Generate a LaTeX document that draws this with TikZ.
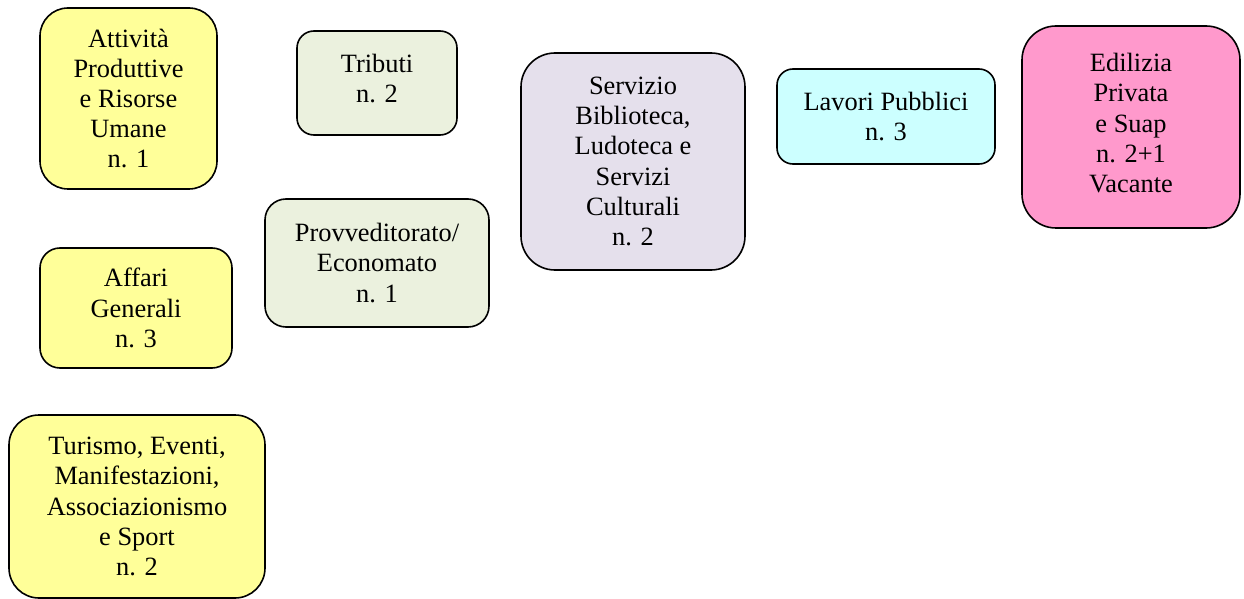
\documentclass[tikz,border=0pt]{standalone}
\usepackage{fontspec}
\setmainfont{Liberation Serif}
\definecolor{ufficiogiallo}{HTML}{FFFF99}
\definecolor{ufficioverde}{HTML}{EBF1DE}
\definecolor{ufficiolilla}{HTML}{E5E0EC}
\definecolor{ufficiociano}{HTML}{CCFFFF}
\definecolor{ufficiorosa}{HTML}{FF99CC}
\begin{document}
\begin{tikzpicture}[
		x=0.5pt, y=-0.5pt,
		ufficio/.style={draw=black, line width=0.8pt, align=center, inner sep=0pt, outer sep=0pt,
			font=\fontsize{13.2}{15.1}\selectfont},
		giallo/.style={ufficio, fill=ufficiogiallo},
		verde/.style={ufficio, fill=ufficioverde},
		lilla/.style={ufficio, fill=ufficiolilla},
		ciano/.style={ufficio, fill=ufficiociano},
		rosa/.style={ufficio, fill=ufficiorosa}
		]
		
		% Page frame
		\useasboundingbox (0,0) rectangle (1244,599);
		
		% First column
		\node[giallo, minimum width=88.5pt, minimum height=90.5pt, rounded corners=14pt] (attivita) at (128.5,98.5)
			{Attività\\Produttive\\e Risorse\\Umane\\n. 1};
		\node[giallo, minimum width=96pt, minimum height=60pt, rounded corners=10pt] (affari) at (136,308)
			{Affari\\Generali\\n. 3};
		\node[giallo, minimum width=128pt, minimum height=91.5pt, rounded corners=15pt] (turismo) at (137,506.5)
			{Turismo, Eventi,\\Manifestazioni,\\Associazionismo\\e Sport\\n. 2};
		
		% Second column
		\node[verde, minimum width=80pt, minimum height=52pt, rounded corners=8.5pt, text depth=5pt] (tributi) at (377,83)
			{Tributi\\n. 2};
		\node[verde, minimum width=112pt, minimum height=64pt, rounded corners=10.5pt] (provveditorato) at (377,263)
			{Provveditorato/\\Economato\\n. 1};
		
		% Remaining offices
		\node[lilla, minimum width=112pt, minimum height=108.5pt, rounded corners=17pt] (biblioteca) at (633,161.5)
			{Servizio\\Biblioteca,\\Ludoteca e\\Servizi\\Culturali\\n. 2};
		\node[ciano, minimum width=109pt, minimum height=47.5pt, rounded corners=8pt] (lavori) at (886,116.5)
			{Lavori Pubblici\\n. 3};
		\node[rosa, minimum width=109pt, minimum height=101pt, rounded corners=17pt, text depth=4pt] (edilizia) at (1131,127)
			{Edilizia\\Privata\\e Suap\\n. 2+1\\Vacante};
		
	\end{tikzpicture}
\end{document}
